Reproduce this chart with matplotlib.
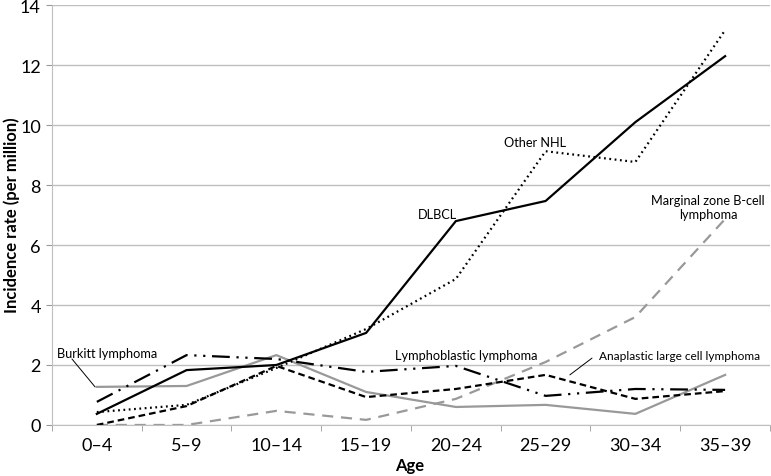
import matplotlib.pyplot as plt

plt.rcParams['font.family'] = ['Lato', 'DejaVu Sans']

ages = ["0–4", "5–9", "10–14", "15–19", "20–24", "25–29", "30–34", "35–39"]

dlbcl = [0.37, 1.83, 2.0, 3.07, 6.8, 7.47, 10.1, 12.3]
other_nhl = [0.43, 0.67, 1.9, 3.2, 4.87, 9.13, 8.77, 13.17]
marginal = [0.0, 0.0, 0.47, 0.17, 0.87, 2.1, 3.6, 6.87]
burkitt = [1.27, 1.3, 2.33, 1.1, 0.6, 0.67, 0.37, 1.67]
lymphoblastic = [0.77, 2.33, 2.2, 1.77, 1.97, 0.97, 1.2, 1.17]
anaplastic = [0.0, 0.63, 1.97, 0.93, 1.2, 1.67, 0.87, 1.13]

gray = "#999999"
lw = 1.6

fig = plt.figure(figsize=(7.71, 4.77), dpi=100)
ax = fig.add_axes([0.0674, 0.107, 0.9313, 0.880])

x = list(range(len(ages)))
ax.plot(x, marginal, color=gray, lw=lw, dashes=(5, 3.5))
ax.plot(x, burkitt, color=gray, lw=lw)
ax.plot(x, lymphoblastic, color="black", lw=lw, dashes=(8, 3, 1, 3, 1, 3))
ax.plot(x, anaplastic, color="black", lw=lw, dashes=(3, 1.8))
ax.plot(x, other_nhl, color="black", lw=lw, dashes=(0.8, 1.6))
ax.plot(x, dlbcl, color="black", lw=lw)

ax.set_xlim(-0.5, len(ages) - 0.5)
ax.set_ylim(0, 14)
ax.set_yticks(range(0, 15, 2))
ax.set_xticks(x)
ax.set_xticklabels(ages)
ax.set_xticks([i - 0.5 for i in range(len(ages) + 1)], minor=True)
ax.tick_params(axis="x", which="major", length=0, pad=9, labelsize=13)
ax.tick_params(axis="x", which="minor", length=4, color=gray, direction="out")
ax.tick_params(axis="y", length=4, color=gray, labelsize=13, pad=4)

ax.yaxis.grid(True, color="#bfbfbf", lw=1)
ax.set_axisbelow(True)
for s in ["top", "right"]:
    ax.spines[s].set_visible(False)
ax.spines["left"].set_color("#bfbfbf")
ax.spines["bottom"].set_color("#bfbfbf")

fig.text(12 / 771, 1 - 215 / 477, "Incidence rate (per million)", fontsize=12,
         fontweight="bold", rotation=90, ha="center", va="center")
fig.text(410 / 771, 1 - 466 / 477, "Age", fontsize=12, fontweight="bold",
         ha="center", va="center")

fs = 9.2
arrow = dict(arrowstyle="-", color="black", lw=0.7, shrinkA=0, shrinkB=0)
ax.text(-0.445, 2.4, "Burkitt lymphoma", fontsize=fs, ha="left", va="center")
ax.annotate("", xy=(-0.02, burkitt[0]), xytext=(-0.277, 2.2), arrowprops=arrow)
ax.text(3.32, 2.33, "Lymphoblastic lymphoma", fontsize=fs, ha="left", va="center")
ax.text(5.6, 2.33, "Anaplastic large cell lymphoma", fontsize=8.6, ha="left", va="center")
ax.annotate("", xy=(5.27, 1.67), xytext=(5.517, 2.23), arrowprops=arrow)
ax.text(3.80, 7.03, "DLBCL", fontsize=fs, ha="center", va="center")
ax.text(4.88, 9.43, "Other NHL", fontsize=fs, ha="center", va="center")
ax.text(6.81, 7.28, "Marginal zone B-cell\nlymphoma", fontsize=fs, ha="center", va="center",
        linespacing=1.2)

fig.savefig("out.png", dpi=100)
